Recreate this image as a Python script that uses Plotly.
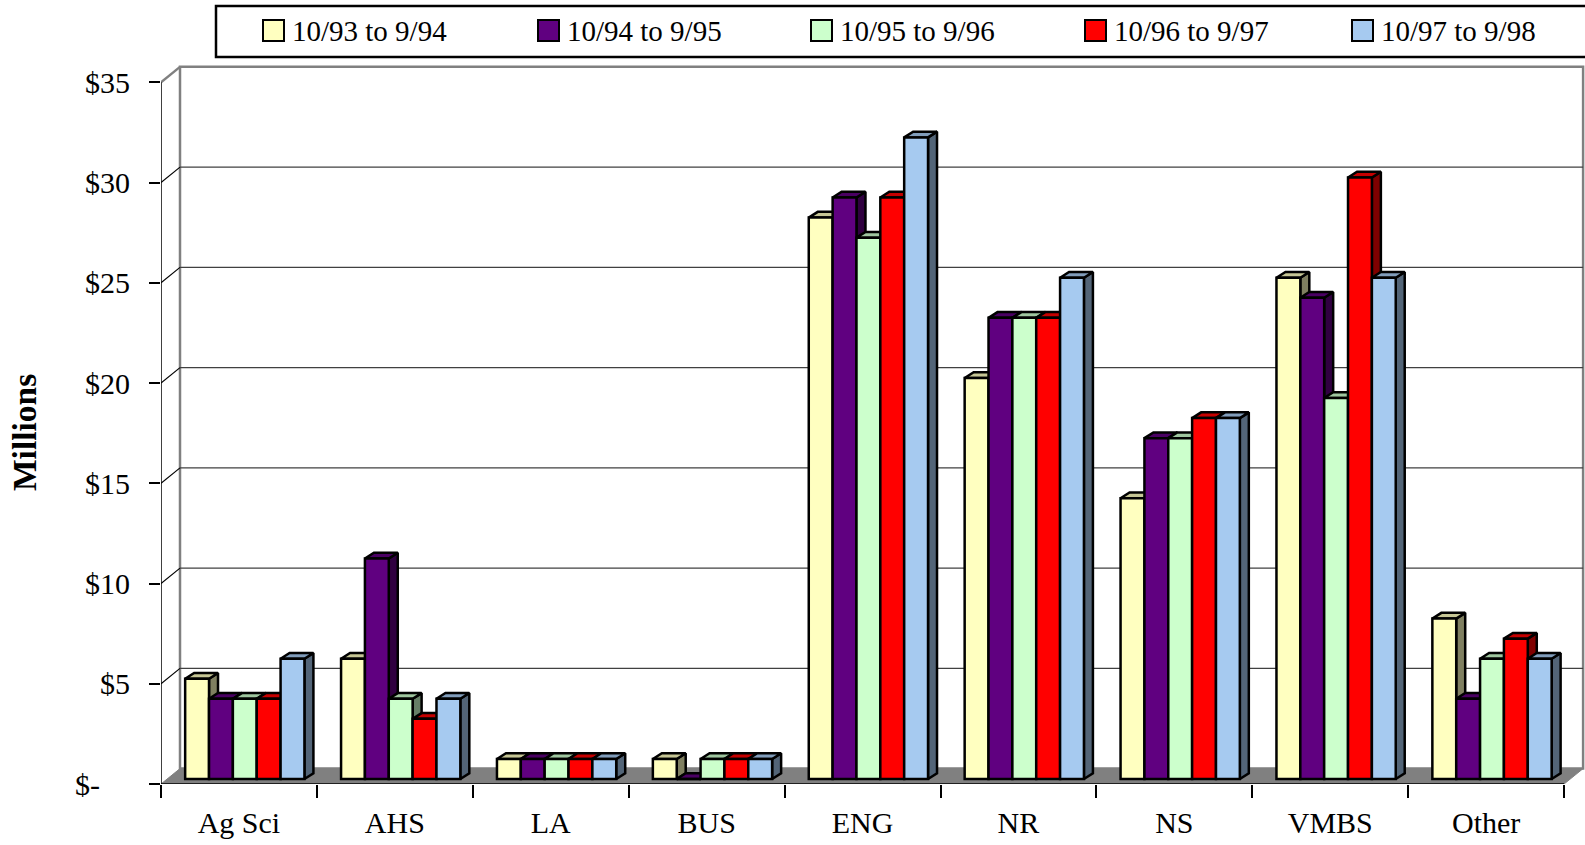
import plotly.graph_objects as go

# ---------------- data ----------------
categories = ["Ag Sci", "AHS", "LA", "BUS", "ENG", "NR", "NS", "VMBS", "Other"]
series_names = ["10/93 to 9/94", "10/94 to 9/95", "10/95 to 9/96",
                "10/96 to 9/97", "10/97 to 9/98"]
fy94 = [5, 6, 1, 1, 28, 20, 14, 25, 8]
fy95 = [4, 11, 1, 0, 29, 23, 17, 24, 4]
fy96 = [4, 4, 1, 1, 27, 23, 17, 19, 6]
fy97 = [4, 3, 1, 1, 29, 23, 18, 30, 7]
fy98 = [6, 4, 1, 1, 32, 25, 18, 25, 6]
y_tick_vals = [0, 5, 10, 15, 20, 25, 30, 35]
y_tick_text = ["$-\u00a0\u00a0\u00a0\u00a0", "$5", "$10", "$15", "$20", "$25", "$30", "$35"]

series_values = [fy94, fy95, fy96, fy97, fy98]
front_colors = ["#FFFFC0", "#600080", "#CCFFCC", "#FF0000", "#A6CAF0"]

# ---------------- geometry / style ----------------
OFF = 0                      # page body margin (removed below)
W_PX, H_PX = 1585 - OFF, 845 - OFF
L_M, R_M, T_M, B_M = 161 - OFF, 0, 64 - OFF, 61
PX_PER_CAT = 155.9
PX_PER_USD = 20.05
PW, PH = W_PX - L_M - R_M, H_PX - T_M - B_M
X_MAX = PW / PX_PER_CAT
Y_MAX = PH / PX_PER_USD

BAR_W = 0.153          # bar width (category units)
GROUP_START = 0.155    # first bar left edge inside category
BASE = 0.25            # front face lift (depth)
DX, DY = 0.0577, 0.285  # bar depth
DXW, DYW = 19 / PX_PER_CAT, 15.4 / PX_PER_USD  # wall depth
N = len(categories)
FONT = "Liberation Serif"
OUT = 2.5


def shade(hexcol, f):
    h = hexcol.lstrip("#")
    r, g, b = (int(h[i:i + 2], 16) for i in (0, 2, 4))
    return "#%02X%02X%02X" % (int(r * f), int(g * f), int(b * f))


fig = go.Figure()

for k, (name, vals, col) in enumerate(zip(series_names, series_values, front_colors)):
    lefts = [i + GROUP_START + k * BAR_W for i in range(N)]
    centers = [x + BAR_W / 2 for x in lefts]
    sx, sy, tx, ty = [], [], [], []
    for xl, v in zip(lefts, vals):
        xr = xl + BAR_W
        t = v + BASE
        sx += [xr, xr + DX, xr + DX, xr, xr, None]
        sy += [BASE, BASE + DY, t + DY, t, BASE, None]
        tx += [xl, xl + DX, xr + DX, xr, xl, None]
        ty += [t, t + DY, t + DY, t, t, None]
    fig.add_trace(go.Scatter(x=sx, y=sy, mode="lines", fill="toself",
                             fillcolor=shade(col, 0.5),
                             line=dict(color="black", width=OUT),
                             hoverinfo="skip", showlegend=False, zorder=2 * k))
    fig.add_trace(go.Scatter(x=tx, y=ty, mode="lines", fill="toself",
                             fillcolor=shade(col, 0.78),
                             line=dict(color="black", width=OUT),
                             hoverinfo="skip", showlegend=False, zorder=2 * k))
    fig.add_trace(go.Bar(x=centers, y=vals, base=[BASE] * N, width=BAR_W,
                         name=name, marker=dict(color=col, line=dict(color="black", width=OUT)),
                         showlegend=False, zorder=2 * k + 1))

shapes = []
GRAY = "#808080"
# back wall
shapes.append(dict(type="rect", xref="x", yref="y", layer="below",
                   x0=DXW, x1=N + DXW, y0=DYW, y1=35 + DYW,
                   fillcolor="white", line=dict(color=GRAY, width=2.5)))
# floor
shapes.append(dict(type="path", xref="x", yref="y", layer="below",
                   path=f"M 0,0 L {N},0 L {N + DXW},{DYW} L {DXW},{DYW} Z",
                   fillcolor=GRAY, line=dict(color=GRAY, width=1)))
# left wall top edge
shapes.append(dict(type="line", xref="x", yref="y", layer="below",
                   x0=0, y0=35, x1=DXW, y1=35 + DYW, line=dict(color=GRAY, width=2.5)))
# gridlines
for v in y_tick_vals[1:-1]:
    shapes.append(dict(type="line", xref="x", yref="y", layer="below",
                       x0=0, y0=v, x1=DXW, y1=v + DYW, line=dict(color="black", width=1.2)))
    shapes.append(dict(type="line", xref="x", yref="y", layer="below",
                       x0=DXW, y0=v + DYW, x1=N + DXW, y1=v + DYW,
                       line=dict(color="#404040", width=1.4)))
# front axes
shapes.append(dict(type="line", xref="x", yref="y", x0=0, y0=0, x1=N, y1=0,
                   line=dict(color="black", width=1.5)))
shapes.append(dict(type="line", xref="x", yref="y", layer="below", x0=0, y0=0, x1=0, y1=35,
                   line=dict(color="black", width=1.5)))


# ---------- manual legend (page pixel helpers) ----------
def px_x(px):
    return (px - OFF - L_M) / PW


def px_y(py):
    return (T_M + PH - (py - OFF)) / PH


shapes.append(dict(type="rect", xref="paper", yref="paper",
                   x0=px_x(216), x1=px_x(1600), y0=px_y(57), y1=px_y(6),
                   fillcolor="white", line=dict(color="black", width=2.5)))
annotations = []
legend_px = [263, 538, 811, 1085, 1352]
for lx, name, col in zip(legend_px, series_names, front_colors):
    shapes.append(dict(type="rect", xref="paper", yref="paper",
                       x0=px_x(lx), x1=px_x(lx + 21), y0=px_y(41), y1=px_y(20),
                       fillcolor=col, line=dict(color="black", width=2)))
    annotations.append(dict(x=px_x(lx + 27), y=px_y(31), xref="paper", yref="paper",
                            text=name, showarrow=False, xanchor="left", yanchor="middle",
                            font=dict(family=FONT, size=29, color="black")))

annotations.append(dict(x=px_x(25), y=px_y(433), xref="paper", yref="paper",
                        text="<b>Millions</b>", textangle=-90, showarrow=False,
                        xanchor="center", yanchor="middle",
                        font=dict(family=FONT, size=33.5, color="black")))

fig.update_layout(
    width=W_PX, height=H_PX,
    margin=dict(l=L_M, r=R_M, t=T_M, b=B_M, pad=0),
    paper_bgcolor="white", plot_bgcolor="white",
    barmode="overlay",
    showlegend=False,
    hovermode=False,
    shapes=shapes,
    annotations=annotations,
    xaxis=dict(range=[0, X_MAX], showgrid=False, zeroline=False, showline=False,
               tickmode="array", tickvals=[i + 0.5 for i in range(N)], ticktext=categories,
               ticks="", tickfont=dict(family=FONT, size=30, color="black"),
               ticklabelstandoff=18,
               minor=dict(tickmode="array", tickvals=list(range(N + 1)), ticks="outside",
                          ticklen=13, tickwidth=1.5, tickcolor="black", showgrid=False)),
    yaxis=dict(range=[0, Y_MAX], showgrid=False, zeroline=False, showline=False,
               tickmode="array", tickvals=y_tick_vals, ticktext=y_tick_text,
               ticks="outside", ticklen=11, tickwidth=1.5, tickcolor="black",
               tickfont=dict(family=FONT, size=30, color="black"),
               ticklabelstandoff=13),
)

fig.write_html("out.html",
               config=dict(displayModeBar=False, displaylogo=False),
               post_script="document.body.style.margin='0';document.body.style.overflow='hidden';")
